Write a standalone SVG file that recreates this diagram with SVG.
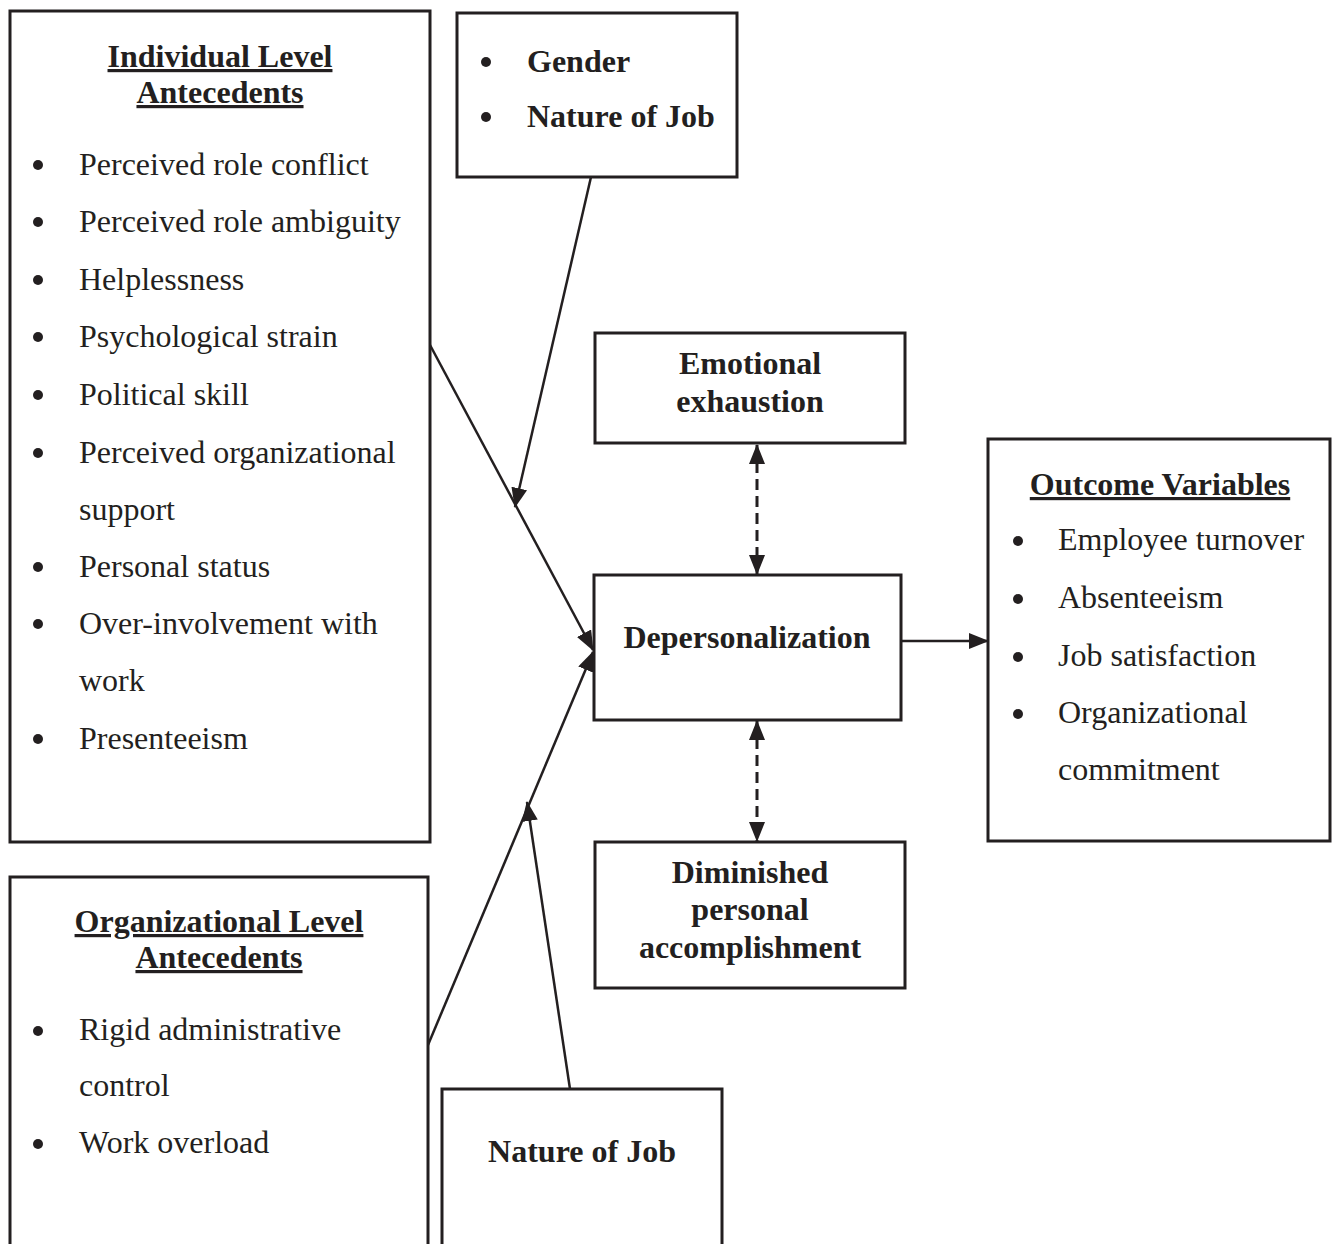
<svg xmlns="http://www.w3.org/2000/svg" width="1332" height="1244" viewBox="0 0 1332 1244">
<style>
.box{fill:#fff;stroke:#231f20;stroke-width:3}
.t{font-family:"Liberation Serif","Times New Roman",serif;font-size:32px;fill:#231f20}
.b{font-weight:bold}
.h{font-weight:bold;text-decoration:underline}
.c{text-anchor:middle}
.dot{fill:#231f20}
.ln{stroke:#231f20;stroke-width:2.5;fill:none}
.dash{stroke:#231f20;stroke-width:3;fill:none;stroke-dasharray:11 6}
</style>
<defs>
<marker id="ah" markerUnits="userSpaceOnUse" markerWidth="20" markerHeight="16" refX="19" refY="8" orient="auto-start-reverse" viewBox="0 0 20 16">
<path d="M0,0 L20,8 L0,16 z" fill="#231f20"/>
</marker>
</defs>
<rect width="1332" height="1244" fill="#fff"/>

<g id="connectors">
<line class="ln" x1="430" y1="345" x2="593" y2="650" marker-end="url(#ah)"/>
<line class="ln" x1="591" y1="177" x2="515" y2="507" marker-end="url(#ah)"/>
<line class="ln" x1="428" y1="1045" x2="593" y2="652" marker-end="url(#ah)"/>
<line class="ln" x1="570" y1="1089" x2="527" y2="802" marker-end="url(#ah)"/>
<line class="ln" x1="901" y1="641" x2="988" y2="641" marker-end="url(#ah)"/>
<line class="dash" x1="757" y1="445" x2="757" y2="574" marker-start="url(#ah)" marker-end="url(#ah)"/>
<line class="dash" x1="757" y1="721" x2="757" y2="841" marker-start="url(#ah)" marker-end="url(#ah)"/>
</g>

<g id="individual">
<rect class="box" x="10" y="11" width="420" height="831"/>
<text class="t h c" x="220" y="67">Individual Level</text>
<text class="t h c" x="220" y="103">Antecedents</text>
<g class="dot">
<circle cx="38" cy="165" r="5"/><circle cx="38" cy="222" r="5"/><circle cx="38" cy="280" r="5"/>
<circle cx="38" cy="337" r="5"/><circle cx="38" cy="395" r="5"/><circle cx="38" cy="453" r="5"/>
<circle cx="38" cy="567" r="5"/><circle cx="38" cy="624" r="5"/><circle cx="38" cy="739" r="5"/>
</g>
<text class="t" x="79" y="175">Perceived role conflict</text>
<text class="t" x="79" y="232">Perceived role ambiguity</text>
<text class="t" x="79" y="290">Helplessness</text>
<text class="t" x="79" y="347">Psychological strain</text>
<text class="t" x="79" y="405">Political skill</text>
<text class="t" x="79" y="463">Perceived organizational</text>
<text class="t" x="79" y="520">support</text>
<text class="t" x="79" y="577">Personal status</text>
<text class="t" x="79" y="634">Over-involvement with</text>
<text class="t" x="79" y="691">work</text>
<text class="t" x="79" y="749">Presenteeism</text>
</g>

<g id="moderators-top">
<rect class="box" x="457" y="13" width="280" height="164"/>
<circle class="dot" cx="486" cy="62" r="5"/>
<circle class="dot" cx="486" cy="117" r="5"/>
<text class="t b" x="527" y="72">Gender</text>
<text class="t b" x="527" y="127">Nature of Job</text>
</g>

<g id="emotional">
<rect class="box" x="595" y="333" width="310" height="110"/>
<text class="t b c" x="750" y="374">Emotional</text>
<text class="t b c" x="750" y="412">exhaustion</text>
</g>

<g id="depersonalization">
<rect class="box" x="594" y="575" width="307" height="145"/>
<text class="t b c" x="747" y="648">Depersonalization</text>
</g>

<g id="diminished">
<rect class="box" x="595" y="842" width="310" height="146"/>
<text class="t b c" x="750" y="883">Diminished</text>
<text class="t b c" x="750" y="920">personal</text>
<text class="t b c" x="750" y="958">accomplishment</text>
</g>

<g id="outcome">
<rect class="box" x="988" y="439" width="342" height="402"/>
<text class="t h c" x="1160" y="495">Outcome Variables</text>
<g class="dot">
<circle cx="1018" cy="541" r="5"/><circle cx="1018" cy="599" r="5"/>
<circle cx="1018" cy="657" r="5"/><circle cx="1018" cy="714" r="5"/>
</g>
<text class="t" x="1058" y="550">Employee turnover</text>
<text class="t" x="1058" y="608">Absenteeism</text>
<text class="t" x="1058" y="666">Job satisfaction</text>
<text class="t" x="1058" y="723">Organizational</text>
<text class="t" x="1058" y="780">commitment</text>
</g>

<g id="organizational">
<rect class="box" x="10" y="877" width="418" height="400"/>
<text class="t h c" x="219" y="932">Organizational Level</text>
<text class="t h c" x="219" y="968">Antecedents</text>
<circle class="dot" cx="38" cy="1031" r="5"/>
<circle class="dot" cx="38" cy="1144" r="5"/>
<text class="t" x="79" y="1040">Rigid administrative</text>
<text class="t" x="79" y="1096">control</text>
<text class="t" x="79" y="1153">Work overload</text>
</g>

<g id="nature-of-job">
<rect class="box" x="442" y="1089" width="280" height="200"/>
<text class="t b c" x="582" y="1162">Nature of Job</text>
</g>
</svg>
